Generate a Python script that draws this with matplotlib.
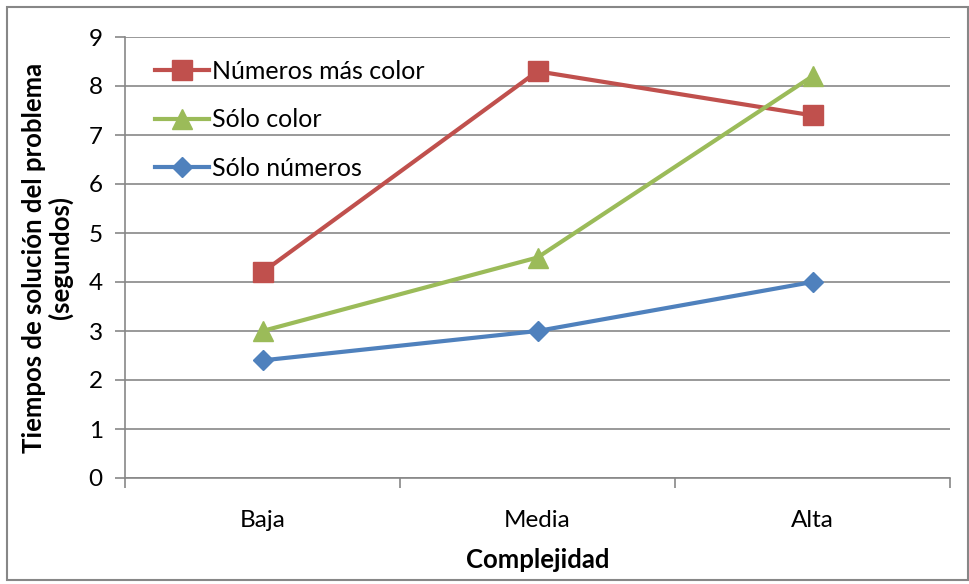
import matplotlib
matplotlib.use("Agg")
import matplotlib.pyplot as plt
from matplotlib.patches import Rectangle

plt.rcParams['font.family'] = ['Lato', 'DejaVu Sans']

categories = ["Baja", "Media", "Alta"]
series_names = ["Números más color", "Sólo color", "Sólo números"]
numeros_mas_color = [4.2, 8.3, 7.4]
solo_color = [3.0, 4.5, 8.2]
solo_numeros = [2.4, 3.0, 4.0]
y_ticks = [0, 1, 2, 3, 4, 5, 6, 7, 8, 9]

W, H = 969, 584
fig = plt.figure(figsize=(W / 100, H / 100), dpi=100)
ax = fig.add_axes([125 / W, 1 - 478 / H, 825 / W, 441 / H])

x = list(range(len(categories)))
grid_col = "#878787"
fs = 17.5
fs_title = 18.5

ax.plot(x, numeros_mas_color, color="#C0504D", lw=3.0, marker="s", ms=14,
        label=series_names[0], zorder=3)
ax.plot(x, solo_color, color="#9BBB59", lw=3.0, marker="^", ms=15,
        label=series_names[1], zorder=3)
ax.plot(x, solo_numeros, color="#4F81BD", lw=3.0, marker="D", ms=10.5,
        label=series_names[2], zorder=3)

ax.set_xlim(-0.5, len(categories) - 0.5)
ax.set_ylim(0, 9)
ax.set_yticks(y_ticks)
ax.yaxis.grid(True, color=grid_col, lw=1.2)
ax.set_axisbelow(True)

# category labels centred, tick marks on category boundaries
ax.set_xticks([i - 0.5 for i in range(len(categories) + 1)])
ax.set_xticklabels([])
ax.set_xticks(x, minor=True)
ax.set_xticklabels(categories, minor=True)
ax.tick_params(axis="x", which="minor", length=0, pad=23, labelsize=fs)
ax.tick_params(axis="x", which="major", length=7, width=1.2, color=grid_col, direction="out")
ax.tick_params(axis="y", length=7, width=1.2, color=grid_col, direction="out", labelsize=fs, pad=9)

for side in ["top", "right"]:
    ax.spines[side].set_visible(False)
for side in ["left", "bottom"]:
    ax.spines[side].set_color(grid_col)
    ax.spines[side].set_linewidth(1.2)

ax.set_xlabel("Complejidad", fontsize=fs_title, fontweight="bold", labelpad=12)
ax.set_ylabel("Tiempos de solución del problema\n(segundos)", fontsize=fs_title,
              fontweight="bold", labelpad=11, linespacing=1.08)

leg = ax.legend(loc="upper left", bbox_to_anchor=(30 / 825, 0.948), frameon=False,
                fontsize=18, handlelength=2.15, handletextpad=0.12,
                labelspacing=1.02, borderaxespad=0, borderpad=0)

fig.patches.append(Rectangle((7 / W, 4 / H), 961 / W, 573 / H,
                             transform=fig.transFigure, fill=False,
                             edgecolor="#878787", lw=1.5))

fig.savefig("out.png", dpi=100)
